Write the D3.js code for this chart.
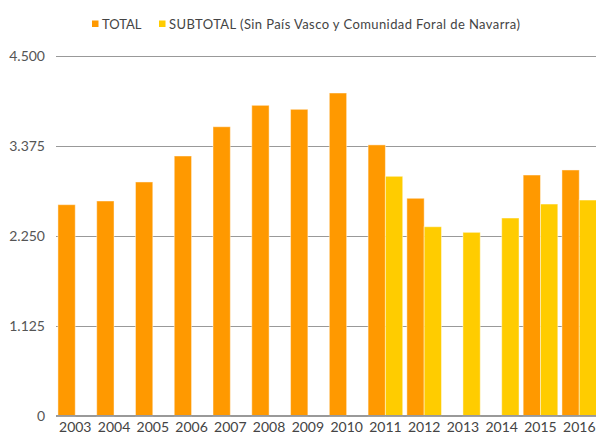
<!DOCTYPE html>
<html>
<head>
<meta charset="utf-8">
<script src="https://cdn.jsdelivr.net/npm/d3@7"></script>
<style>
  html, body { margin: 0; padding: 0; background: #fff; }
  svg { display: block; }
  text { font-family: Lato, "Open Sans", sans-serif; }
</style>
</head>
<body>
<svg id="chart" width="596" height="434"></svg>
<script>
const years = ["2003","2004","2005","2006","2007","2008","2009","2010","2011","2012","2013","2014","2015","2016"];
const totalValues = [2640, 2686, 2924, 3249, 3615, 3883, 3833, 4037, 3388, 2720, null, null, 3011, 3074];
const subtotalValues = [null, null, null, null, null, null, null, null, 2995, 2364, 2294, 2473, 2648, 2698];
const yTicks = [0, 1125, 2250, 3375, 4500];
const seriesNames = ["TOTAL", "SUBTOTAL (Sin País Vasco y Comunidad Foral de Navarra)"];
const seriesColors = ["#FF9900", "#FFCC00"];

const svg = d3.select("#chart");

const locale = d3.formatLocale({ decimal: ",", thousands: ".", grouping: [3], currency: ["", "€"] });
const fmt = locale.format(",d");

const y = d3.scaleLinear().domain([0, 4500]).range([415.7, 56]);
const x = d3.scaleBand().domain(years).range([56, 598.5]).paddingInner(0.107).paddingOuter(0.05);
const xs = d3.scaleBand().domain(["t", "s"]).range([0, x.bandwidth()]);

// gridlines + y labels
const yAxis = d3.axisLeft(y).tickValues(yTicks).tickFormat(fmt).tickSize(-(596 - 56)).tickPadding(11);
const gy = svg.append("g").attr("transform", "translate(56,0)").call(yAxis);
gy.select(".domain").remove();
gy.selectAll(".tick line").attr("stroke", "#999").attr("stroke-width", 1).attr("shape-rendering", "crispEdges");
gy.selectAll(".tick text").attr("fill", "#555").attr("font-size", 14);

// bars
const rows = years.map((yr, i) => ({ year: yr, t: totalValues[i], s: subtotalValues[i] }));
const groups = svg.append("g").selectAll("g").data(rows).join("g")
  .attr("transform", d => `translate(${x(d.year)},0)`);

[["t", 0], ["s", 1]].forEach(([key, idx]) => {
  groups.filter(d => d[key] != null).append("rect")
    .attr("x", xs(key))
    .attr("width", xs.bandwidth())
    .attr("y", d => y(d[key]))
    .attr("height", d => y(0) - y(d[key]))
    .attr("fill", seriesColors[idx])
    .attr("stroke", "rgba(255,255,255,0.45)")
    .attr("stroke-width", 1);
});

// baseline on top
svg.append("line").attr("x1", 56).attr("x2", 596).attr("y1", y(0)).attr("y2", y(0))
  .attr("stroke", "#999").attr("stroke-width", 1).attr("shape-rendering", "crispEdges");

// x axis labels
const xAxis = d3.axisBottom(x).tickSize(0).tickPadding(0);
const gx = svg.append("g").attr("transform", "translate(0,432)").call(xAxis);
gx.select(".domain").remove();
gx.selectAll(".tick text").attr("fill", "#444").attr("font-size", 14).attr("dy", "0");

// legend
const legend = svg.append("g");
const legendItems = [
  { x: 92, name: seriesNames[0], color: seriesColors[0], len: null },
  { x: 159, name: seriesNames[1], color: seriesColors[1], len: 351 }
];
legendItems.forEach(it => {
  legend.append("rect").attr("x", it.x).attr("y", 20.5).attr("width", 6.5).attr("height", 6.5).attr("fill", it.color);
  const t = legend.append("text").attr("x", it.x + 10).attr("y", 24).attr("dy", "0.35em")
    .attr("font-size", 13).attr("fill", "#444").text(it.name);
  if (it.len) t.attr("textLength", it.len).attr("lengthAdjust", "spacing");
});
</script>
</body>
</html>
